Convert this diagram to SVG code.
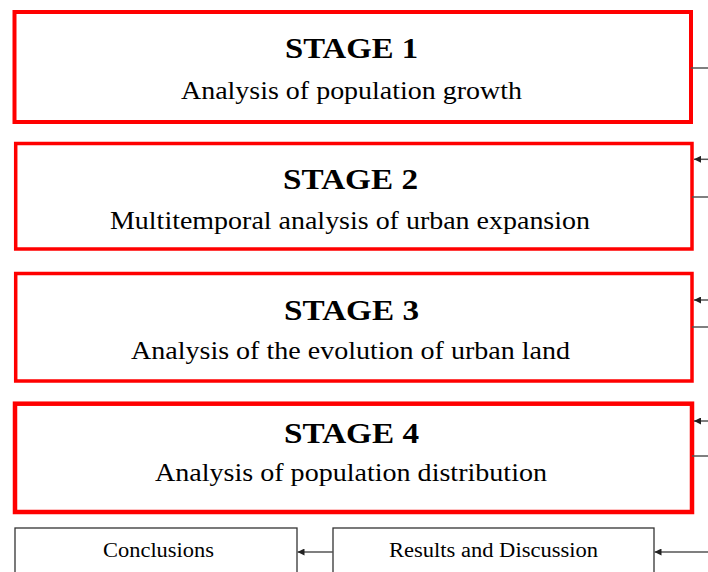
<svg xmlns="http://www.w3.org/2000/svg" width="708" height="572" viewBox="0 0 708 572">
<defs>
<marker id="ah" viewBox="0 0 10 10" refX="10" refY="5" markerWidth="8" markerHeight="7" markerUnits="userSpaceOnUse" orient="auto">
<path d="M0,0 L10,5 L0,10 z" fill="#222"/>
</marker>
<style>
.stage{fill:#fff;stroke:#ff0000;stroke-width:4}
.plain{fill:#fff;stroke:#333;stroke-width:1.3}
text{font-family:"Liberation Serif","Times New Roman",Times,serif;fill:#000;text-anchor:middle}
.h{font-weight:bold;font-size:30px}
.s{font-size:26px}
.b{font-size:20px}
.c{stroke:#555;stroke-width:1.5;fill:none}
.ca{stroke:#555;stroke-width:1.5;fill:none;marker-end:url(#ah)}
</style>
</defs>
<g id="stage1">
<rect class="stage" x="14.5" y="12" width="676.5" height="110"/>
<text class="h" x="351.5" y="58" textLength="133" lengthAdjust="spacingAndGlyphs">STAGE 1</text>
<text class="s" x="351.5" y="99" textLength="341" lengthAdjust="spacingAndGlyphs">Analysis of population growth</text>
</g>
<g id="stage2">
<rect class="stage" x="15.7" y="143.5" width="676.3" height="105.5" style="stroke-width:3.5"/>
<text class="h" x="350.5" y="188.5" textLength="135" lengthAdjust="spacingAndGlyphs">STAGE 2</text>
<text class="s" x="350" y="229" textLength="480" lengthAdjust="spacingAndGlyphs">Multitemporal analysis of urban expansion</text>
</g>
<g id="stage3">
<rect class="stage" x="15.7" y="273.5" width="676.3" height="107.5" style="stroke-width:3.5"/>
<text class="h" x="351.5" y="320" textLength="135" lengthAdjust="spacingAndGlyphs">STAGE 3</text>
<text class="s" x="350.5" y="359" textLength="439" lengthAdjust="spacingAndGlyphs">Analysis of the evolution of urban land</text>
</g>
<g id="stage4">
<rect class="stage" x="15" y="403.7" width="677" height="108.3" style="stroke-width:4.5"/>
<text class="h" x="351.5" y="443" textLength="135" lengthAdjust="spacingAndGlyphs">STAGE 4</text>
<text class="s" x="351" y="481" textLength="392" lengthAdjust="spacingAndGlyphs">Analysis of population distribution</text>
</g>
<g id="conclusions">
<rect class="plain" x="15" y="528" width="282" height="60"/>
<text class="b" x="158.5" y="557" textLength="111" lengthAdjust="spacingAndGlyphs">Conclusions</text>
</g>
<g id="results">
<rect class="plain" x="333" y="528" width="321" height="60"/>
<text class="b" x="493.5" y="557" textLength="209" lengthAdjust="spacingAndGlyphs">Results and Discussion</text>
</g>
<g id="connectors">
<line class="c" x1="691" y1="68" x2="708" y2="68"/>
<line class="ca" x1="708" y1="159.3" x2="694" y2="159.3"/>
<line class="c" x1="692" y1="197" x2="708" y2="197"/>
<line class="ca" x1="708" y1="300" x2="694" y2="300"/>
<line class="c" x1="692" y1="327" x2="708" y2="327"/>
<line class="ca" x1="708" y1="421" x2="694" y2="421"/>
<line class="c" x1="692" y1="456" x2="708" y2="456"/>
<line class="ca" x1="708" y1="552" x2="654.5" y2="552"/>
<line class="ca" x1="333" y1="552" x2="297.5" y2="552"/>
</g>
</svg>
